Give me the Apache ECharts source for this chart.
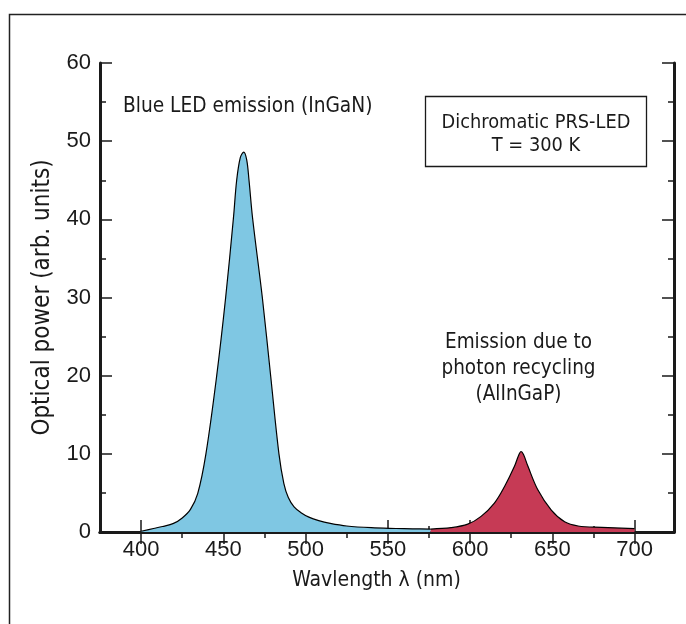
<!DOCTYPE html>
<html>
<head>
	<meta charset="UTF-8">
	<title>Dichromatic PRS-LED</title>
	<script src="https://cdn.jsdelivr.net/npm/echarts@6/dist/echarts.min.js"></script>
	<style>
		html, body { margin: 0; padding: 0; background: #fff; }
	</style>
</head>
<body>
	<div id="main" style="width: 686px;height:624px;"></div>
	<script type="text/javascript">
		// blue LED emission (InGaN)
		var blueLambda = [400, 407.5, 413, 419.7, 425, 430, 434.4, 439.4, 445.9, 451.4, 456.1, 458.1, 460.3, 462.4, 464.2, 465.6, 467.8, 473.7, 478.8, 483.8, 486.8, 489.5, 493, 497, 502, 508, 515, 525, 540, 555, 565, 576];
		var bluePower = [0.1, 0.45, 0.7, 1.1, 1.8, 2.9, 4.9, 10, 19.9, 30, 40.1, 45, 47.9, 48.6, 47.6, 45, 40.1, 30, 19.9, 10, 6.2, 4.4, 3.2, 2.5, 1.9, 1.45, 1.1, 0.77, 0.55, 0.45, 0.4, 0.38];
		// photon recycling emission (AlInGaP)
		var redLambda = [576, 588.4, 598.6, 606.7, 614.8, 620.9, 627, 629.5, 631, 632.5, 635.2, 641.2, 649.4, 657.5, 665.7, 680, 700];
		var redPower = [0.38, 0.55, 1.0, 2.0, 3.7, 5.8, 8.4, 9.8, 10.3, 9.9, 8.4, 5.4, 2.8, 1.3, 0.77, 0.6, 0.42];

		var xMajor = [400, 450, 500, 550, 600, 650, 700];
		var xMinor = [425, 475, 525, 575, 625, 675];
		var yMajor = [0, 10, 20, 30, 40, 50, 60];
		var yMinor = [5, 15, 25, 35, 45, 55];

		var textFont = "'DejaVu Sans Condensed', 'Liberation Sans', sans-serif";
		var numFont = "'Liberation Sans', Arial, sans-serif";
		var ink = '#1a1a1a';

		function pairs(xs, ys) {
			return xs.map(function (x, i) { return [x, ys[i]]; });
		}

		function xAx(pos, ticks, len, withLine, withLabel) {
			return {
				type: 'value', position: pos, min: 375, max: 724, interval: 25,
				axisLine: { show: withLine, lineStyle: { color: ink, width: 3 } },
				axisTick: { show: true, inside: true, length: len, customValues: ticks, lineStyle: { color: ink, width: 1.5 } },
				axisLabel: withLabel ? { customValues: ticks, margin: 7, color: ink, fontSize: 22, fontFamily: numFont } : { show: false },
				splitLine: { show: false }
			};
		}
		function yAx(pos, ticks, len, withLine, withLabel) {
			return {
				type: 'value', position: pos, min: 0, max: 60, interval: 5,
				axisLine: { show: withLine, lineStyle: { color: ink, width: 3 } },
				axisTick: { show: true, inside: true, length: len, customValues: ticks, lineStyle: { color: ink, width: 1.5 } },
				axisLabel: withLabel ? { customValues: ticks, margin: 9, color: ink, fontSize: 22, fontFamily: numFont } : { show: false },
				splitLine: { show: false }
			};
		}

		var xMain = xAx('bottom', xMajor, 12, true, true);
		xMain.name = 'Wavlength \u03bb (nm)';
		xMain.nameLocation = 'middle';
		xMain.nameGap = 38;
		xMain.nameTextStyle = { color: ink, fontSize: 21, fontFamily: textFont, padding: [0, 21, 0, 0] };

		var yMain = yAx('left', yMajor, 12, true, true);
		yMain.name = 'Optical power (arb. units)';
		yMain.nameLocation = 'middle';
		yMain.nameGap = 45;
		yMain.nameTextStyle = { color: ink, fontSize: 24, fontFamily: textFont };

		var myChart = echarts.init(document.getElementById('main'));
		myChart.setOption({
			backgroundColor: '#fff',
			animation: false,
			grid: { left: 100, right: 12, top: 63, bottom: 92, containLabel: false },
			xAxis: [
				xMain,
				xAx('bottom', xMinor, 6, false, false),
				xAx('top', xMajor, 12, true, false),
				xAx('top', xMinor, 6, false, false)
			],
			yAxis: [
				yMain,
				yAx('left', yMinor, 6, false, false),
				yAx('right', yMajor, 12, true, false),
				yAx('right', yMinor, 6, false, false)
			],
			series: [{
				type: 'line',
				data: pairs(blueLambda, bluePower),
				smooth: 0.35,
				symbol: 'none',
				lineStyle: { color: '#000', width: 1.2 },
				areaStyle: { color: '#7fc7e3', opacity: 1, origin: 'start' },
				z: 2
			}, {
				type: 'line',
				data: pairs(redLambda, redPower),
				smooth: 0.35,
				symbol: 'none',
				lineStyle: { color: '#000', width: 1.2 },
				areaStyle: { color: '#c63a55', opacity: 1, origin: 'start' },
				z: 2
			}],
			graphic: [
				// outer frame (left and top edges only)
				{ type: 'polyline', shape: { points: [[9.5, 624], [9.5, 14.5], [686, 14.5]] }, style: { stroke: '#222', lineWidth: 1.5, fill: null } },
				{ type: 'rect', shape: { x: 425.5, y: 96.5, width: 221, height: 70 }, style: { stroke: ink, lineWidth: 1.3, fill: '#fff' }, z: 10 },
				{ type: 'text', x: 536, y: 123, z: 11, style: { text: 'Dichromatic PRS-LED', font: '19.8px ' + textFont, fill: ink, align: 'center', verticalAlign: 'middle' } },
				{ type: 'text', x: 536, y: 146, z: 11, style: { text: 'T = 300 K', font: '19.8px ' + textFont, fill: ink, align: 'center', verticalAlign: 'middle' } },
				{ type: 'text', x: 123, y: 107, z: 11, style: { text: 'Blue LED emission (InGaN)', font: '20.7px ' + textFont, fill: ink, align: 'left', verticalAlign: 'middle' } },
				{ type: 'text', x: 518.5, y: 343, z: 11, style: { text: 'Emission due to', font: '20.5px ' + textFont, fill: ink, align: 'center', verticalAlign: 'middle' } },
				{ type: 'text', x: 518.5, y: 369, z: 11, style: { text: 'photon recycling', font: '20.5px ' + textFont, fill: ink, align: 'center', verticalAlign: 'middle' } },
				{ type: 'text', x: 518.5, y: 395, z: 11, style: { text: '(AlInGaP)', font: '20.5px ' + textFont, fill: ink, align: 'center', verticalAlign: 'middle' } }
			]
		});
	</script>
</body>
</html>
